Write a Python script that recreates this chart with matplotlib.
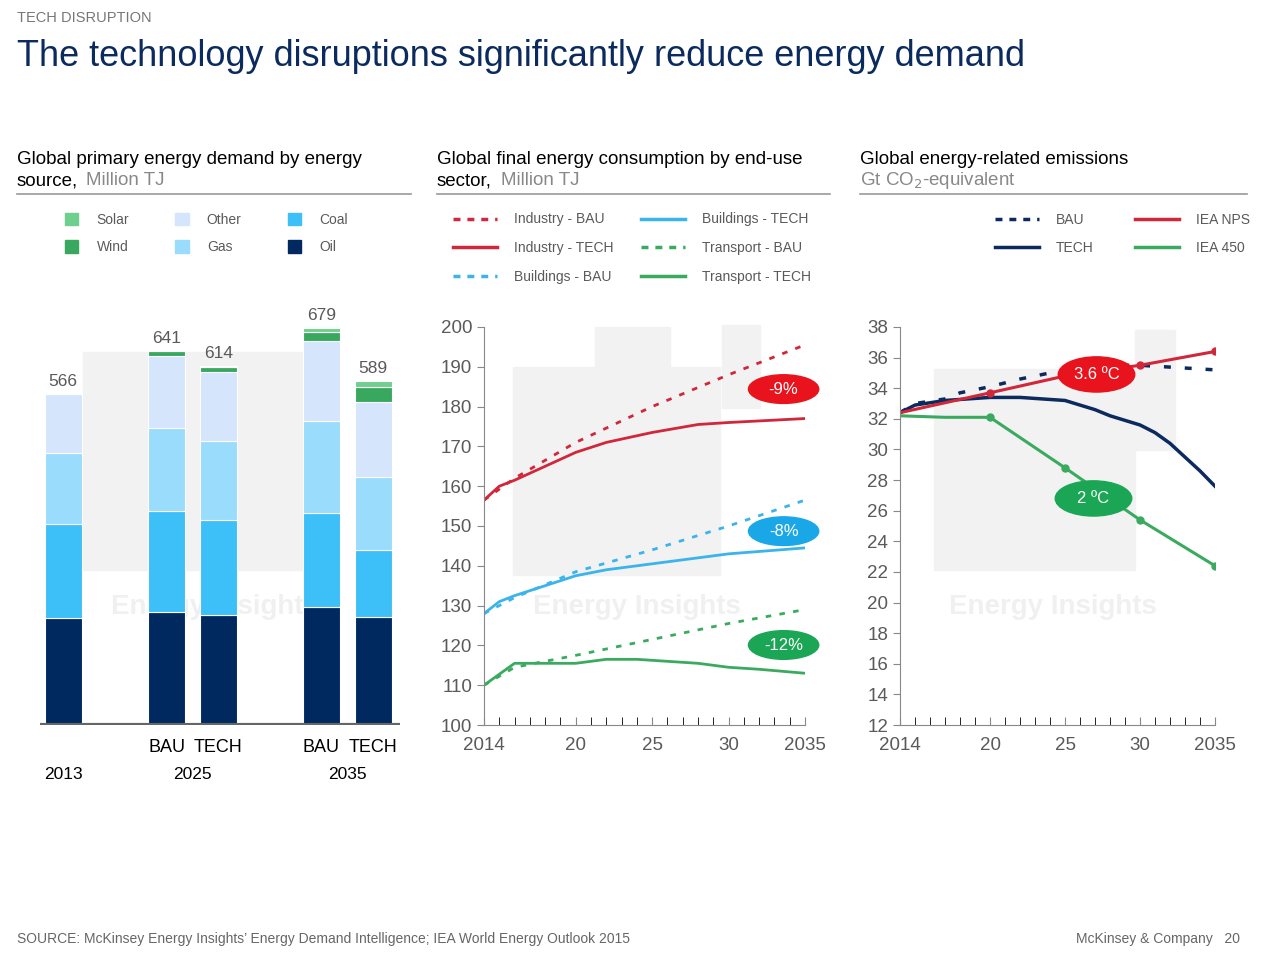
import matplotlib
matplotlib.use("Agg")
import matplotlib.pyplot as plt
from matplotlib.patches import Rectangle, Ellipse, Patch
from matplotlib.lines import Line2D
import numpy as np

W, H = 1280, 961
fig = plt.figure(figsize=(12.8, 9.61), dpi=100)
plt.rcParams['font.family'] = ['Liberation Sans', 'DejaVu Sans']

def fx(x): return x / W
def fy(y): return 1 - y / H

# ---------------- data ----------------
bar_labels = ["2013", "BAU", "TECH", "BAU", "TECH"]
sources = ["Oil", "Coal", "Gas", "Other", "Wind", "Solar"]
oil   = [183, 193, 188, 202, 184]
coal  = [161, 173, 162, 161, 116]
gas   = [121, 142, 135, 157, 125]
other = [101, 123, 118, 137, 127]
wind  = [0, 8, 9, 15, 27]
solar = [0, 2, 2, 7, 10]
totals = [566, 641, 614, 679, 589]
src_colors = ["#002960", "#3dbff7", "#9adcfb", "#d5e5fb", "#39a85f", "#6fd08e"]

years_ind = [2014, 2015, 2016, 2018, 2020, 2022, 2025, 2028, 2030, 2035]
ind_tech  = [156.5, 160, 161.5, 165, 168.5, 171, 173.5, 175.5, 176, 177]
years_b = [2014, 2016, 2020, 2025, 2030, 2035]
ind_bau   = [156.5, 162, 171, 180, 188, 195.5]
bld_bau   = [128, 132, 138.5, 144, 150, 156.5]
trn_bau   = [110, 114.5, 117.5, 121.5, 125.5, 129]
bld_tech  = [128, 131, 132.5, 135, 137.5, 139, 140.5, 142, 143, 144.5]
years_tt = [2014, 2016, 2018, 2020, 2022, 2024, 2026, 2028, 2030, 2032, 2035]
trn_tech = [110, 115.5, 115.5, 115.5, 116.5, 116.5, 116, 115.5, 114.5, 114, 113]

years_e = [2014, 2015, 2017, 2020, 2022, 2025, 2027, 2028, 2029, 2030, 2031, 2032, 2033, 2034, 2035]
em_tech = [32.4, 32.9, 33.2, 33.4, 33.4, 33.2, 32.6, 32.2, 31.9, 31.6, 31.1, 30.4, 29.5, 28.6, 27.6]
years_bau = [2014, 2015, 2017, 2018, 2020, 2022, 2024, 2026, 2028, 2030, 2035]
em_bau = [32.4, 33.0, 33.3, 33.7, 34.1, 34.6, 35.0, 35.3, 35.5, 35.5, 35.2]
years_nps = [2014, 2020, 2025, 2030, 2035]
em_nps = [32.4, 33.7, 34.8, 35.5, 36.4]
years_450 = [2014, 2017, 2020, 2025, 2030, 2035]
em_450 = [32.2, 32.1, 32.1, 28.8, 25.4, 22.4]

RED, BLUE, GREEN, NAVY = "#d0273b", "#3ab4ea", "#3aaa5f", "#0b2a5e"
GREY = "#5a5a5a"

# ---------------- watermark ----------------
wm = "#f2f2f2"
for (x0, y0, x1, y1) in [(83, 352, 330, 570), (513, 367, 720, 575), (595, 327, 670, 367),
                         (722, 325, 760, 408), (934, 369, 1135, 570), (1135, 330, 1175, 450)]:
    fig.patches.append(Rectangle((fx(x0), fy(y1)), fx(x1 - x0), (y1 - y0) / H,
                                 transform=fig.transFigure, color=wm, zorder=-2))
for cx in [215, 637, 1053]:
    fig.text(fx(cx), fy(607), "Energy Insights", fontsize=20, fontweight='bold',
             color="#f0f0f0", ha='center', va='center', zorder=-1)

# ---------------- headers ----------------
fig.text(fx(17), fy(18), "TECH DISRUPTION", fontsize=10.5, color="#777777", va='center')
fig.text(fx(17), fy(56), "The technology disruptions significantly reduce energy demand",
         fontsize=26, color="#0b2a5e", va='center')
hdr = dict(fontsize=13.5, va='center')
fig.text(fx(17), fy(160), "Global primary energy demand by energy", **hdr)
fig.text(fx(17), fy(181), "source,", **hdr)
fig.text(fx(86), fy(181), "Million TJ", color="#888888", **hdr)
fig.text(fx(437), fy(160), "Global final energy consumption by end-use", **hdr)
fig.text(fx(437), fy(181), "sector,", **hdr)
fig.text(fx(501), fy(181), "Million TJ", color="#888888", **hdr)
fig.text(fx(860), fy(160), "Global energy-related emissions", **hdr)
fig.text(fx(860), fy(181), "Gt CO$_2$-equivalent", color="#888888", **hdr)
for x0, x1 in [(17, 411), (437, 830), (860, 1247)]:
    fig.add_artist(Line2D([fx(x0), fx(x1)], [fy(194), fy(194)], color="#999999", lw=1.2))

fig.text(fx(17), fy(939), "SOURCE: McKinsey Energy Insights’ Energy Demand Intelligence; IEA World Energy Outlook 2015",
         fontsize=10, color="#666666", va='center')
fig.text(fx(1240), fy(939), "McKinsey & Company   20", fontsize=10, color="#666666", va='center', ha='right')

# ---------------- left bar chart ----------------
ax1 = fig.add_axes([fx(40), fy(725), fx(360), (725 - 300) / H])
ax1.patch.set_alpha(0)
pos = [0, 2, 3, 5, 6]
bottom = np.zeros(5)
for name, vals, c in zip(sources, [oil, coal, gas, other, wind, solar], src_colors):
    ax1.bar(pos, vals, width=0.72, bottom=bottom, color=c, edgecolor='white', linewidth=0.8)
    bottom += np.array(vals)
for p, t in zip(pos, totals):
    ax1.text(p, t + 8, str(t), ha='center', va='bottom', fontsize=12.5, color=GREY)
ax1.set_xlim(-0.45, 6.52)
ax1.set_ylim(0, 727)
for s in ax1.spines.values():
    s.set_visible(False)
ax1.axhline(0, color="#666666", lw=3)
ax1.set_xticks([])
ax1.set_yticks([])
for p, l in zip(pos[1:], bar_labels[1:]):
    ax1.text(p, -39, l, ha='center', va='center', fontsize=13)
for x, l in [(0, "2013"), (2.5, "2025"), (5.5, "2035")]:
    ax1.text(x, -84, l, ha='center', va='center', fontsize=12.5)

lh = [Patch(color=src_colors[5]), Patch(color=src_colors[4]), Patch(color=src_colors[3]),
      Patch(color=src_colors[2]), Patch(color=src_colors[1]), Patch(color=src_colors[0])]
fig.legend(lh, ["Solar", "Wind", "Other", "Gas", "Coal", "Oil"], ncol=3,
           loc='upper left', bbox_to_anchor=(fx(52), fy(200)), frameon=False,
           fontsize=10, labelcolor=GREY, handlelength=1.0, handleheight=1.0,
           columnspacing=3.3, labelspacing=1.0, handletextpad=1.3)

# ---------------- middle chart ----------------
ax2 = fig.add_axes([fx(484), fy(725), fx(321), (725 - 327) / H])
ax2.patch.set_alpha(0)
ax2.plot(years_b, ind_bau, color=RED, lw=2, ls=(0, (2, 3)))
ax2.plot(years_ind, ind_tech, color=RED, lw=2)
ax2.plot(years_b, bld_bau, color=BLUE, lw=2, ls=(0, (2, 3)))
ax2.plot(years_ind, bld_tech, color=BLUE, lw=2)
ax2.plot(years_b, trn_bau, color=GREEN, lw=2, ls=(0, (2, 3)))
ax2.plot(years_tt, trn_tech, color=GREEN, lw=2)
ax2.set_xlim(2014, 2035)
ax2.set_ylim(100, 200)
ax2.set_yticks(range(100, 201, 10))

ax3 = fig.add_axes([fx(900), fy(725), fx(315), (725 - 327) / H])
ax3.patch.set_alpha(0)
ax3.plot(years_bau, em_bau, color=NAVY, lw=2.5, ls=(0, (2, 4)))
ax3.plot(years_e, em_tech, color=NAVY, lw=2.5)
ax3.plot(years_nps, em_nps, color=RED, lw=2.2)
ax3.plot(years_nps[1:], em_nps[1:], 'o', color=RED, ms=5)
ax3.plot(years_450, em_450, color=GREEN, lw=2.2)
ax3.plot(years_450[2:], em_450[2:], 'o', color=GREEN, ms=5)
ax3.set_xlim(2014, 2035)
ax3.set_ylim(12, 38)
ax3.set_yticks(range(12, 39, 2))

for a in [ax2, ax3]:
    a.set_xticks([2014, 2020, 2025, 2030, 2035])
    a.set_xticklabels(["2014", "20", "25", "30", "2035"])
    a.set_xticks(range(2014, 2036), minor=True)
    a.spines['top'].set_visible(False)
    a.spines['right'].set_visible(False)
    a.spines['left'].set_color("#888888")
    a.spines['bottom'].set_color("#888888")
    a.tick_params(axis='both', direction='out', length=5, color="#888888", labelsize=13.5, labelcolor=GREY)
    a.tick_params(axis='x', which='both', direction='in', length=6, pad=9)

for y, t, c in [(184.4, "-9%", "#e8131c"), (148.7, "-8%", "#1aa7e8"), (120.1, "-12%", "#1aa655")]:
    ax2.add_patch(Ellipse((2033.6, y), 4.6, 7.2, color=c, zorder=5, clip_on=False))
    ax2.text(2033.6, y, t, color='white', ha='center', va='center', fontsize=12, zorder=6)
for x, y, t, c in [(2027.1, 34.9, "3.6 ºC", "#e8131c"), (2026.9, 26.8, "2 ºC", "#1aa655")]:
    ax3.add_patch(Ellipse((x, y), 5.1, 2.3, color=c, zorder=5, clip_on=False))
    ax3.text(x, y, t, color='white', ha='center', va='center', fontsize=12, zorder=6)

h2 = [Line2D([], [], color=RED, lw=2.5, ls=(0, (2, 2))), Line2D([], [], color=RED, lw=2.5),
      Line2D([], [], color=BLUE, lw=2.5, ls=(0, (2, 2))), Line2D([], [], color=BLUE, lw=2.5),
      Line2D([], [], color=GREEN, lw=2.5, ls=(0, (2, 2))), Line2D([], [], color=GREEN, lw=2.5)]
fig.legend(h2, ["Industry - BAU", "Industry - TECH", "Buildings - BAU", "Buildings - TECH",
                "Transport - BAU", "Transport - TECH"], ncol=2, loc='upper left',
           bbox_to_anchor=(fx(440), fy(200)), frameon=False, fontsize=10, labelcolor=GREY,
           handlelength=3.2, columnspacing=2.0, labelspacing=1.05, handletextpad=1.2)

h3 = [Line2D([], [], color=NAVY, lw=2.5, ls=(0, (2, 2))), Line2D([], [], color=NAVY, lw=2.5),
      Line2D([], [], color=RED, lw=2.5), Line2D([], [], color=GREEN, lw=2.5)]
fig.legend(h3, ["BAU", "TECH", "IEA NPS", "IEA 450"], ncol=2, loc='upper left',
           bbox_to_anchor=(fx(982), fy(200)), frameon=False, fontsize=10, labelcolor=GREY,
           handlelength=3.2, columnspacing=3.0, labelspacing=1.05, handletextpad=1.2)

fig.savefig("out.png", dpi=100)
